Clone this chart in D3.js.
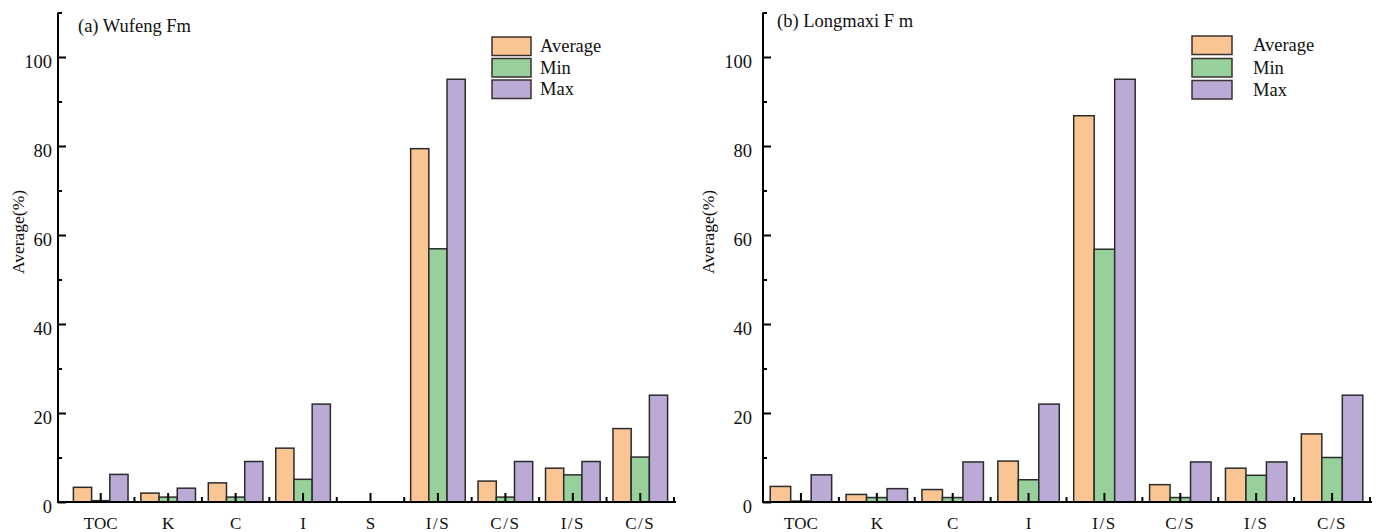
<!DOCTYPE html>
<html>
<head>
<meta charset="utf-8">
<script src="https://cdn.jsdelivr.net/npm/d3@7"></script>
<style>
  body { margin: 0; background: #fff; }
  svg { display: block; font-family: "Liberation Serif", "Times New Roman", serif; }
</style>
</head>
<body>
<script>
var seriesNames = ["Average", "Min", "Max"];
var seriesColors = ["#f8c593", "#98d09b", "#baaad5"];

// (a) Wufeng Fm
var catsA = ["TOC", "K", "C", "I", "S", "I/S", "C/S", "I/S", "C/S"];
var avgA = [3.3, 2.0, 4.3, 12.1, 0, 79.4, 4.7, 7.6, 16.5];
var minA = [0.3, 1.1, 1.1, 5.1, 0, 56.9, 1.1, 6.1, 10.1];
var maxA = [6.2, 3.1, 9.1, 22.0, 0, 95.0, 9.1, 9.1, 24.0];

// (b) Longmaxi Fm
var catsB = ["TOC", "K", "C", "I", "I/S", "C/S", "I/S", "C/S"];
var avgB = [3.5, 1.7, 2.8, 9.2, 86.8, 3.9, 7.6, 15.3];
var minB = [0.2, 1.0, 1.0, 5.0, 56.8, 1.0, 6.0, 10.0];
var maxB = [6.1, 3.0, 9.0, 22.0, 95.0, 9.0, 9.0, 24.0];

var yTicks = [0, 10, 20, 30, 40, 50, 60, 70, 80, 90, 100, 110];

function init () {
  var w = 1378;
  var h = 532;

  var svg = d3.select("body")
    .append("svg")
    .attr("width", w)
    .attr("height", h);

  var yScale = d3.scaleLinear()
    .domain([0, 110])
    .range([502, 12.5]);

  drawPanel(svg, yScale, {
    title: "(a) Wufeng Fm", titleX: 78, titleY: 32,
    cats: catsA, values: [avgA, minA, maxA],
    axisX: 58, bandRange: [67, 674], labelPad: 6, yTitleX: 19,
    legendX: 492, legendW: 39, legendTextX: 540, legendY: [37, 58.5, 80]
  });

  drawPanel(svg, yScale, {
    title: "(b) Longmaxi F m", titleX: 777, titleY: 27,
    cats: catsB, values: [avgB, minB, maxB],
    axisX: 763, bandRange: [763, 1370], labelPad: 11, yTitleX: 709,
    legendX: 1192, legendW: 40, legendTextX: 1253, legendY: [36, 58.5, 80.5]
  });
}

function drawPanel (svg, yScale, p) {
  var g = svg.append("g");
  var n = p.cats.length;
  var base = yScale(0);

  var xScale = d3.scaleBand()
    .domain(d3.range(n))
    .range(p.bandRange);

  var inner = d3.scaleBand()
    .domain(d3.range(3))
    .range([0, xScale.bandwidth() * 0.81]);
  var off = xScale.bandwidth() * 0.095;

  // bars
  seriesNames.forEach(function(name, s) {
    g.append("g")
      .selectAll("rect")
      .data(p.values[s])
      .enter()
      .append("rect")
      .attr("x", function(d, i) { return xScale(i) + off + inner(s); })
      .attr("y", function(d) { return yScale(d); })
      .attr("width", inner.bandwidth())
      .attr("height", function(d) { return base - yScale(d); })
      .attr("fill", seriesColors[s])
      .attr("stroke", "#2b2b2b")
      .attr("stroke-width", 1.5)
      .attr("display", function(d) { return d > 0 ? null : "none"; });
  });

  // y axis: minor ticks, then labelled major ticks
  g.append("g")
    .attr("transform", "translate(" + p.axisX + ",0)")
    .call(d3.axisLeft(yScale)
      .tickValues(yTicks.filter(function(t) { return t % 20 !== 0; }))
      .tickSize(-4)
      .tickFormat(""))
    .call(function(a) {
      a.select(".domain").remove();
      a.selectAll("line").attr("stroke-width", 2);
    });

  g.append("g")
    .attr("transform", "translate(" + p.axisX + ",0)")
    .call(d3.axisLeft(yScale)
      .tickValues(yTicks.filter(function(t) { return t % 20 === 0; }))
      .tickSize(-8)
      .tickPadding(p.labelPad)
      .tickFormat(d3.format("d")))
    .call(function(a) {
      a.select(".domain").remove();
      a.selectAll("line").attr("stroke-width", 2);
      a.selectAll("text")
        .attr("dy", "0.55em")
        .attr("font-family", "Liberation Serif")
        .attr("font-size", 18.5)
        .attr("fill", "#111");
    });

  g.append("line")
    .attr("x1", p.axisX).attr("x2", p.axisX)
    .attr("y1", yScale(110)).attr("y2", base + 1)
    .attr("stroke", "#000").attr("stroke-width", 2);

  // x axis
  var xEnd = p.bandRange[1] + 2;
  g.append("line")
    .attr("x1", p.axisX - 1).attr("x2", xEnd)
    .attr("y1", base).attr("y2", base)
    .attr("stroke", "#000").attr("stroke-width", 2);

  g.append("g")
    .selectAll("line")
    .data(d3.range(n))
    .enter()
    .append("line")
    .attr("x1", function(i) { return xScale(i) + xScale.bandwidth() / 2; })
    .attr("x2", function(i) { return xScale(i) + xScale.bandwidth() / 2; })
    .attr("y1", base).attr("y2", base - 9)
    .attr("stroke", "#000").attr("stroke-width", 2);

  g.append("g")
    .selectAll("line")
    .data(d3.range(n))
    .enter()
    .append("line")
    .attr("x1", function(i) { return xScale(i) + xScale.bandwidth(); })
    .attr("x2", function(i) { return xScale(i) + xScale.bandwidth(); })
    .attr("y1", base).attr("y2", base - 5)
    .attr("stroke", "#000").attr("stroke-width", 2);

  g.append("g")
    .selectAll("text")
    .data(d3.range(n))
    .enter()
    .append("text")
    .attr("x", function(i) { return xScale(i) + xScale.bandwidth() / 2; })
    .attr("y", 529)
    .attr("text-anchor", "middle")
    .attr("font-size", 17)
    .attr("letter-spacing", function(i) { return p.cats[i].length === 3 && p.cats[i] !== "TOC" ? 1.5 : 0; })
    .attr("fill", "#111")
    .text(function(i) { return p.cats[i]; });

  // y title
  g.append("text")
    .attr("transform", "translate(" + (p.yTitleX + 5) + "," + 232 + ") rotate(-90)")
    .attr("text-anchor", "middle")
    .attr("font-size", 17.5)
    .attr("fill", "#111")
    .text("Average(%)");

  // panel title
  g.append("text")
    .attr("x", p.titleX)
    .attr("y", p.titleY)
    .attr("font-size", 18.5)
    .attr("fill", "#111")
    .text(p.title);

  // legend
  var leg = g.append("g")
    .selectAll("g")
    .data(seriesNames)
    .enter()
    .append("g");

  leg.append("rect")
    .attr("x", p.legendX)
    .attr("y", function(d, i) { return p.legendY[i]; })
    .attr("width", p.legendW)
    .attr("height", 18.5)
    .attr("fill", function(d, i) { return seriesColors[i]; })
    .attr("stroke", "#3a3030")
    .attr("stroke-width", 1.5);

  leg.append("text")
    .attr("x", p.legendTextX)
    .attr("y", function(d, i) { return p.legendY[i] + 15; })
    .attr("font-size", 18.5)
    .attr("fill", "#111")
    .text(function(d) { return d; });
}

window.onload = init;
</script>
</body>
</html>
